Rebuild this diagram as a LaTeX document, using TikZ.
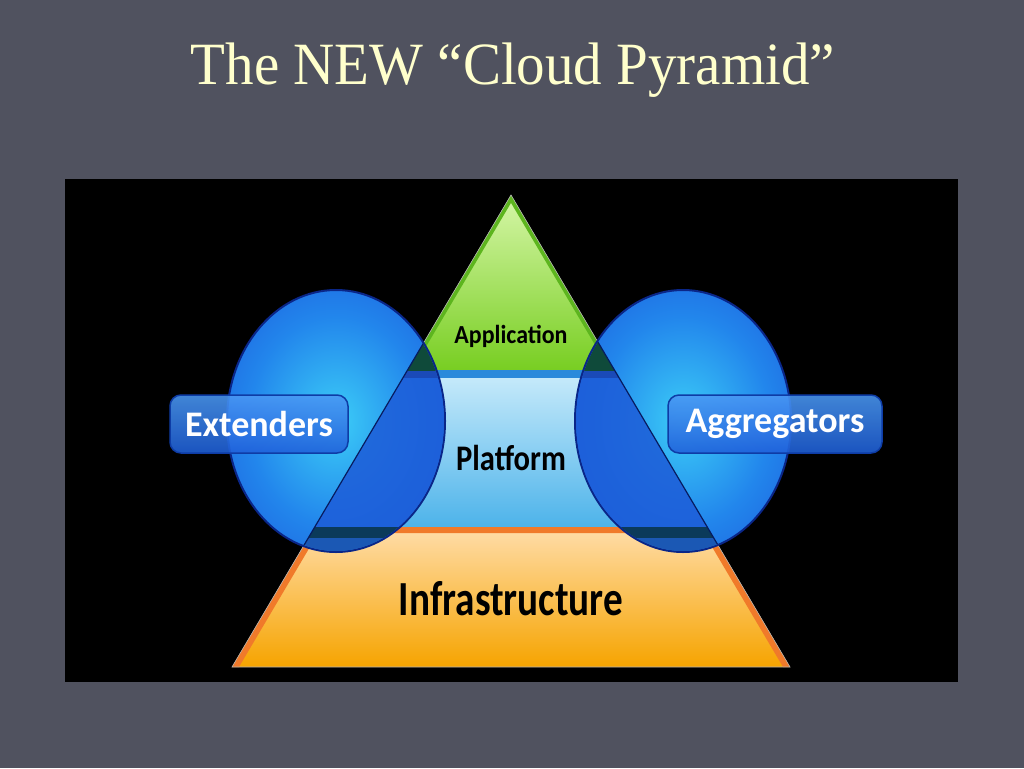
\documentclass[tikz,border=0pt]{standalone}
\usepackage{fontspec}
\setmainfont{Liberation Serif}
\newfontfamily\labfont{Carlito}
\usetikzlibrary{calc,positioning}
\definecolor{slide}{HTML}{50525F}
\definecolor{titletext}{HTML}{FFFFCC}
\definecolor{appTop}{HTML}{D6F6A8}
\definecolor{appBot}{HTML}{78CE22}
\definecolor{appEdge}{HTML}{5DB51E}
\definecolor{platTop}{HTML}{C4E9FA}
\definecolor{platBot}{HTML}{4DB3EA}
\definecolor{platBand}{HTML}{2A8ADB}
\definecolor{infTop}{HTML}{FFDDAA}
\definecolor{infBot}{HTML}{F6A400}
\definecolor{infEdge}{HTML}{F07A2A}
\definecolor{discIn}{HTML}{3CCDF7}
\definecolor{discMid}{HTML}{2286EC}
\definecolor{discOut}{HTML}{1A4CD6}
\definecolor{discLine}{HTML}{0A2688}
\definecolor{overGreen}{HTML}{0F4A3A}
\definecolor{overBand}{HTML}{1A4AB8}
\definecolor{overBlue}{HTML}{1D5CD8}
\definecolor{overDark}{HTML}{0B3A5A}
\definecolor{overLow}{HTML}{1B58B4}
\definecolor{boxTop}{HTML}{4A98F4}
\definecolor{boxBot}{HTML}{1F60DA}
\definecolor{boxLine}{HTML}{0E3CA6}
\pgfdeclareradialshading{discshade}{\pgfpoint{0bp}{0bp}}{color(0bp)=(discIn); color(20bp)=(discMid); color(42bp)=(discOut); color(50bp)=(discOut)}
\newcommand{\squeeze}[2][0.82]{\scalebox{#1}[1]{#2}}
\tikzset{
  heading/.style={text=titletext, anchor=base, font=\fontsize{60}{66}\selectfont},
  layer/.style={text=black, font=\labfont\bfseries\fontsize{36}{40}\selectfont},
  bubble/.style={shading=discshade, draw=discLine, line width=2},
  tag/.style={rounded corners=11, top color=boxTop, bottom color=boxBot, fill opacity=0.88,
    text opacity=1, draw=boxLine, line width=1.5, text=white, minimum height=58, inner sep=0,
    font=\labfont\bfseries\fontsize{36}{40}\selectfont},
}

\begin{document}
\begin{tikzpicture}[x=1pt,y=-1pt]
  \useasboundingbox (0,0) rectangle (1024,768);
  \fill[slide] (0,0) rectangle (1024,768);
  \fill[black] (65,179) rectangle (958,682);

  \node[heading] (title) at (513,84) {\squeeze[0.95]{The NEW “Cloud Pyramid”}};

  % pyramid corners and layer cuts
  \coordinate (A) at (511,195);
  \coordinate (L) at (232,667);
  \coordinate (R) at (790,667);
  \coordinate (al) at ($(A)!{175/472}!(L)$);
  \coordinate (ar) at ($(A)!{175/472}!(R)$);
  \coordinate (bl) at ($(A)!{183/472}!(L)$);
  \coordinate (br) at ($(A)!{183/472}!(R)$);
  \coordinate (pl) at ($(A)!{332/472}!(L)$);
  \coordinate (pr) at ($(A)!{332/472}!(R)$);

  \shade[top color=appTop, bottom color=appBot] (A) -- (al) -- (ar) -- cycle;
  \begin{scope}
    \clip (A) -- (al) -- (ar) -- cycle;
    \draw[appEdge, line width=8] (al) -- (A) -- (ar);
  \end{scope}
  \fill[platBand] (al) -- (ar) -- (br) -- (bl) -- cycle;
  \shade[top color=platTop, bottom color=platBot] (bl) -- (br) -- (pr) -- (pl) -- cycle;
  \shade[top color=infTop, bottom color=infBot] (pl) -- (pr) -- (R) -- (L) -- cycle;
  \begin{scope}
    \clip (pl) -- (pr) -- (R) -- (L) -- cycle;
    \draw[infEdge, line width=12] (L) -- (pl) -- (pr) -- (R);
  \end{scope}
  \draw[gray!60, line width=0.6] (L) -- (A) -- (R) -- cycle;

  % the two discs
  \coordinate (lc) at (336,421);
  \coordinate (rc) at (683,421);
  \shade[bubble] (lc) ellipse [x radius=109, y radius=131];
  \shade[bubble] (rc) ellipse [x radius=108, y radius=131];

  % where the discs lie over the pyramid
  \begin{scope}
    \clip (lc) ellipse [x radius=108, y radius=130] (rc) ellipse [x radius=107, y radius=130];
    \begin{scope}
      \clip (A) -- (L) -- (R) -- cycle;
      \fill[overBlue, opacity=0.85] (65,378) rectangle (958,527);
      \fill[overGreen] (65,195) rectangle (958,371);
      \fill[overBand] (65,371) rectangle (958,378);
      \fill[overDark] (65,527) rectangle (958,538);
      \fill[overLow] (65,538) rectangle (958,560);
    \end{scope}
    \draw[discLine!70!black, line width=1.2] (L) -- (A) -- (R);
  \end{scope}

  \node[layer] (app) at (511,336) {\fontsize{26}{30}\selectfont\squeeze[0.92]{Application}};
  \node[layer] (plat) at (511,458) {\squeeze[0.85]{Platform}};
  \node[layer] (infra) at (511,599) {\fontsize{49}{52}\selectfont\squeeze[0.8]{Infrastructure}};

  \node[tag, minimum width=178] (ext) at (259,424) {Extenders};
  \node[tag, minimum width=214] (agg) at (775,424) {Aggregators};
\end{tikzpicture}
\end{document}
